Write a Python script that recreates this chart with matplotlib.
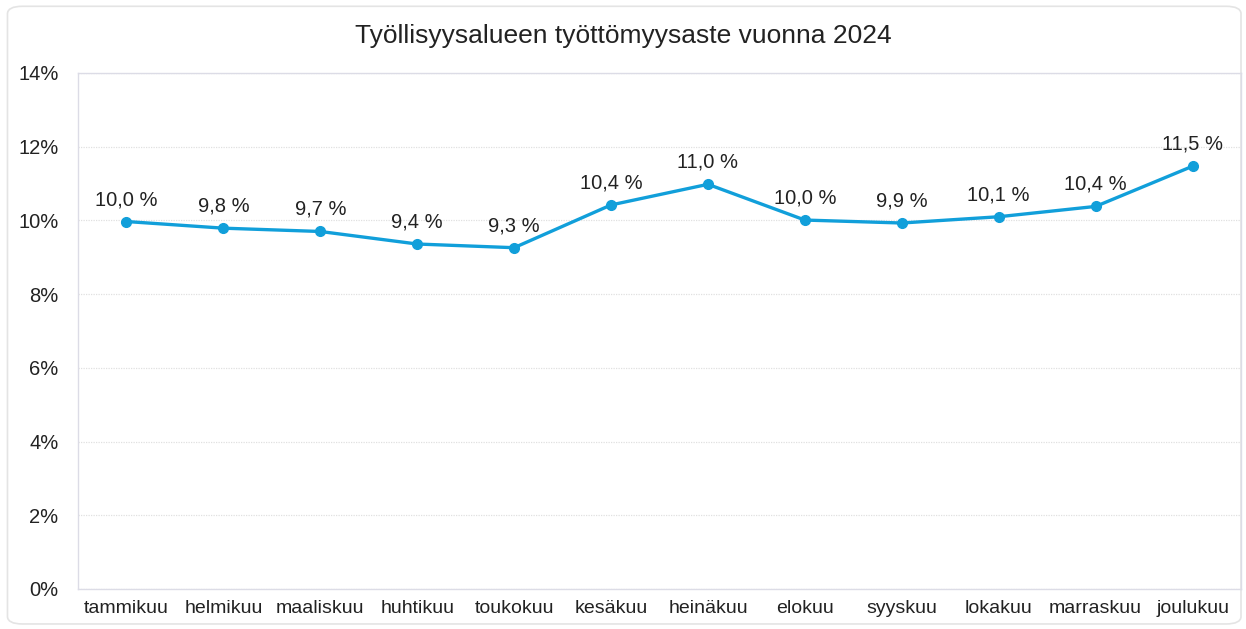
import matplotlib.pyplot as plt
from matplotlib.patches import FancyBboxPatch
from matplotlib.ticker import FuncFormatter

plt.rcParams['font.family'] = ['Liberation Sans', 'DejaVu Sans']

# data
months = ['tammikuu', 'helmikuu', 'maaliskuu', 'huhtikuu', 'toukokuu', 'kesäkuu',
          'heinäkuu', 'elokuu', 'syyskuu', 'lokakuu', 'marraskuu', 'joulukuu']
rate = [9.97, 9.79, 9.70, 9.36, 9.26, 10.42, 10.98, 10.01, 9.93, 10.10, 10.38, 11.47]
yticks = [0, 2, 4, 6, 8, 10, 12, 14]

line_col = '#119FDA'
text_col = '#222222'

fig = plt.figure(figsize=(12.46, 6.29), dpi=100)
fig.patch.set_facecolor('white')

# rounded outer frame
frame = FancyBboxPatch((0.006, 0.008), 0.99, 0.982, boxstyle='round,pad=0,rounding_size=0.012',
                       transform=fig.transFigure, facecolor='none', edgecolor='#e4e4e4',
                       linewidth=1.2, zorder=-1)
fig.patches.append(frame)

ax = fig.add_axes([78 / 1246, 1 - 589 / 629, (1241 - 78) / 1246, (589 - 73) / 629])
ax.set_facecolor('none')

x = list(range(len(months)))
ax.plot(x, rate, color=line_col, linewidth=2.4, marker='o', markersize=7, zorder=3)

for xi, v in zip(x, rate):
    ax.annotate(f'{v:.1f} %'.replace('.', ','), (xi, v), xytext=(0, 9),
                textcoords='offset points', ha='center', va='bottom',
                fontsize=14.5, color=text_col)

ax.set_xlim(-0.5, len(months) - 0.5)
ax.set_ylim(0, 14)
ax.set_yticks(yticks)
ax.yaxis.set_major_formatter(FuncFormatter(lambda v, p: f'{v:.0f}%'))
ax.set_xticks(x)
ax.set_xticklabels(months)
ax.tick_params(axis='both', length=0, labelcolor=text_col)
ax.tick_params(axis='y', pad=14, labelsize=14.5)
ax.tick_params(axis='x', pad=8, labelsize=14)

ax.grid(axis='y', color='#e0e0e0', linestyle=(0, (1, 1)), linewidth=0.9)
for s in ax.spines.values():
    s.set_color('#dcdce6')
    s.set_linewidth(1.0)

fig.text(0.5, 1 - 36 / 629, 'Työllisyysalueen työttömyysaste vuonna 2024', ha='center',
         va='center', fontsize=19, color=text_col)

fig.savefig('out.png', dpi=100, facecolor='white')
